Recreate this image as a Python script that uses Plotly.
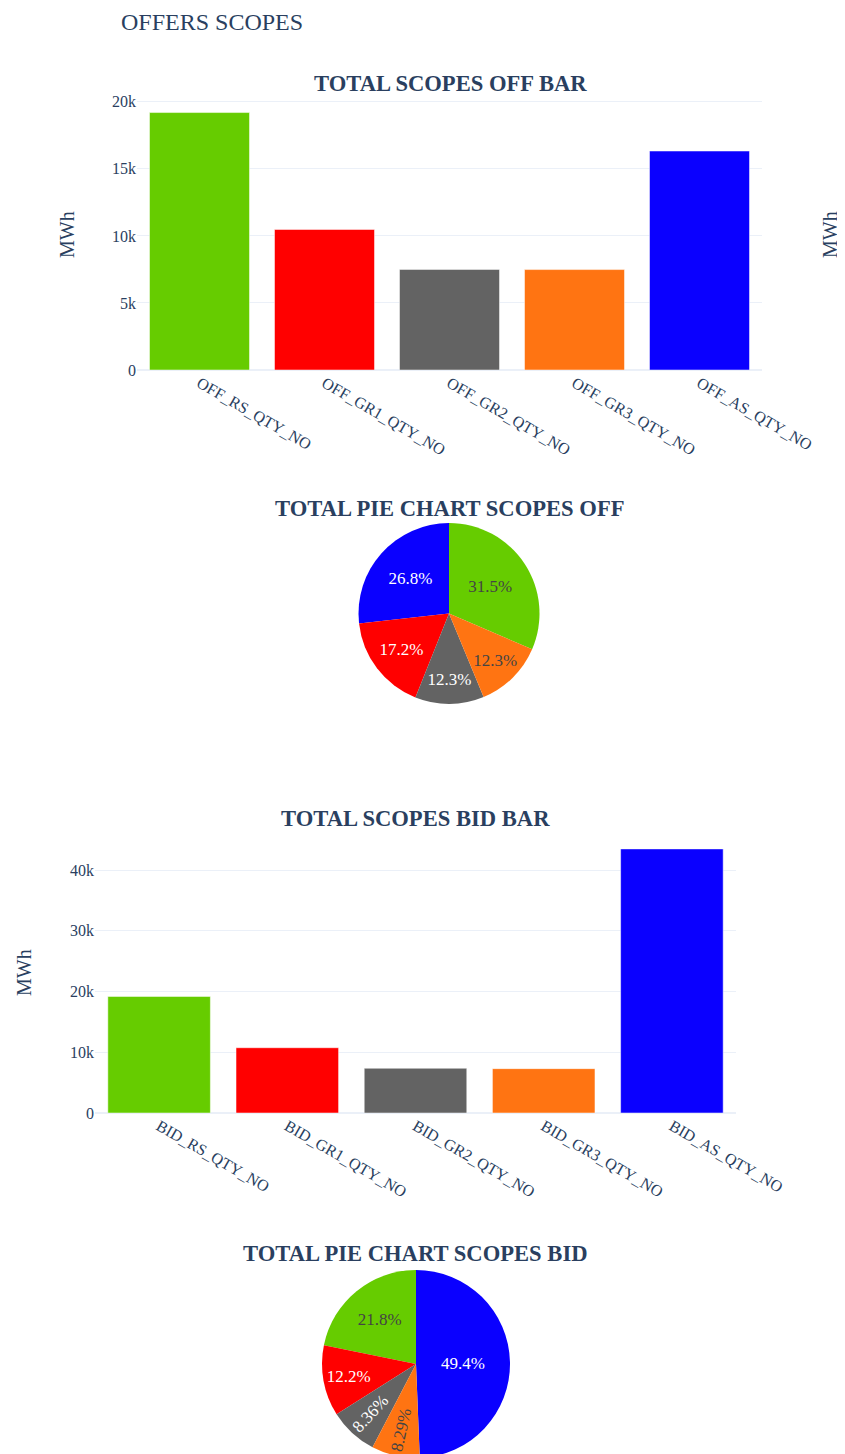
import plotly.graph_objects as go

W, H = 845, 1454
OFFSET = 8  # page body margin

# ---- data ----
OFF_CATEGORIES = ["OFF_RS_QTY_NO", "OFF_GR1_QTY_NO", "OFF_GR2_QTY_NO", "OFF_GR3_QTY_NO", "OFF_AS_QTY_NO"]
OFF_VALUES = [19200, 10480, 7500, 7490, 16330]
BID_CATEGORIES = ["BID_RS_QTY_NO", "BID_GR1_QTY_NO", "BID_GR2_QTY_NO", "BID_GR3_QTY_NO", "BID_AS_QTY_NO"]
BID_VALUES = [19200, 10750, 7370, 7305, 43500]
CATEGORY_COLORS = ["#66cc00", "#ff0000", "#636363", "#ff7412", "#0a00ff"]

FONT = "Liberation Serif, Times New Roman, serif"
TXT = "#2a3f5f"


def fx(px):
    return (px - OFFSET) / W


def fy(py):
    return 1 - (py - OFFSET) / H


fig = go.Figure()

fig.add_trace(go.Bar(x=OFF_CATEGORIES, y=OFF_VALUES, marker=dict(color=CATEGORY_COLORS),
                     xaxis="x", yaxis="y", showlegend=False))
fig.add_trace(go.Bar(x=BID_CATEGORIES, y=BID_VALUES, marker=dict(color=CATEGORY_COLORS),
                     xaxis="x2", yaxis="y2", showlegend=False))

fig.add_trace(go.Pie(
    labels=OFF_CATEGORIES, values=OFF_VALUES,
    marker=dict(colors=CATEGORY_COLORS),
    textinfo="percent", textposition="inside", textfont=dict(size=17, family=FONT),
    domain=dict(x=[fx(358), fx(540)], y=[fy(704), fy(523)]),
    showlegend=False))

fig.add_trace(go.Pie(
    labels=BID_CATEGORIES, values=BID_VALUES,
    marker=dict(colors=CATEGORY_COLORS),
    textinfo="percent", textposition="inside", textfont=dict(size=17, family=FONT),
    domain=dict(x=[fx(322), fx(510)], y=[fy(1458), fy(1270)]),
    showlegend=False))

axis_common = dict(tickfont=dict(size=16, family=FONT, color=TXT), automargin=False)

fig.update_layout(
    template="plotly_white",
    width=W, height=H, autosize=False,
    margin=dict(l=0, r=0, t=0, b=0, pad=0),
    font=dict(family=FONT, color=TXT),
    bargap=0.2,
    xaxis=dict(domain=[fx(137), fx(762)], anchor="y", tickangle=30, showgrid=False, **axis_common),
    yaxis=dict(domain=[fy(370), fy(99)], anchor="x", **axis_common),
    xaxis2=dict(domain=[fx(95), fx(736)], anchor="y2", tickangle=30, showgrid=False, **axis_common),
    yaxis2=dict(domain=[fy(1113), fy(835)], anchor="x2", **axis_common),
)

annotations = [
    dict(text="OFFERS SCOPES", x=fx(119), y=fy(22), xanchor="left", yanchor="middle",
         font=dict(size=24, family=FONT, color=TXT)),
    dict(text="<b>TOTAL SCOPES OFF BAR</b>", x=fx(450), y=fy(83), xanchor="center", yanchor="middle",
         font=dict(size=22.6, family=FONT, color=TXT)),
    dict(text="<b>TOTAL PIE CHART SCOPES OFF</b>", x=fx(450), y=fy(508), xanchor="center", yanchor="middle",
         font=dict(size=22.6, family=FONT, color=TXT)),
    dict(text="<b>TOTAL SCOPES BID BAR</b>", x=fx(415), y=fy(818), xanchor="center", yanchor="middle",
         font=dict(size=22.6, family=FONT, color=TXT)),
    dict(text="<b>TOTAL PIE CHART SCOPES BID</b>", x=fx(415), y=fy(1253), xanchor="center", yanchor="middle",
         font=dict(size=22.6, family=FONT, color=TXT)),
    # y-axis titles
    dict(text="MWh", x=fx(67), y=fy(235), xanchor="center", yanchor="middle", textangle=-90,
         font=dict(size=20, family=FONT, color=TXT)),
    dict(text="MWh", x=fx(24), y=fy(973), xanchor="center", yanchor="middle", textangle=-90,
         font=dict(size=20, family=FONT, color=TXT)),
    dict(text="MWh", x=fx(830), y=fy(235), xanchor="center", yanchor="middle", textangle=-90,
         font=dict(size=20, family=FONT, color=TXT)),
]
for a in annotations:
    a.update(xref="paper", yref="paper", showarrow=False)
fig.update_layout(annotations=annotations)

fig.write_html("out.html")
